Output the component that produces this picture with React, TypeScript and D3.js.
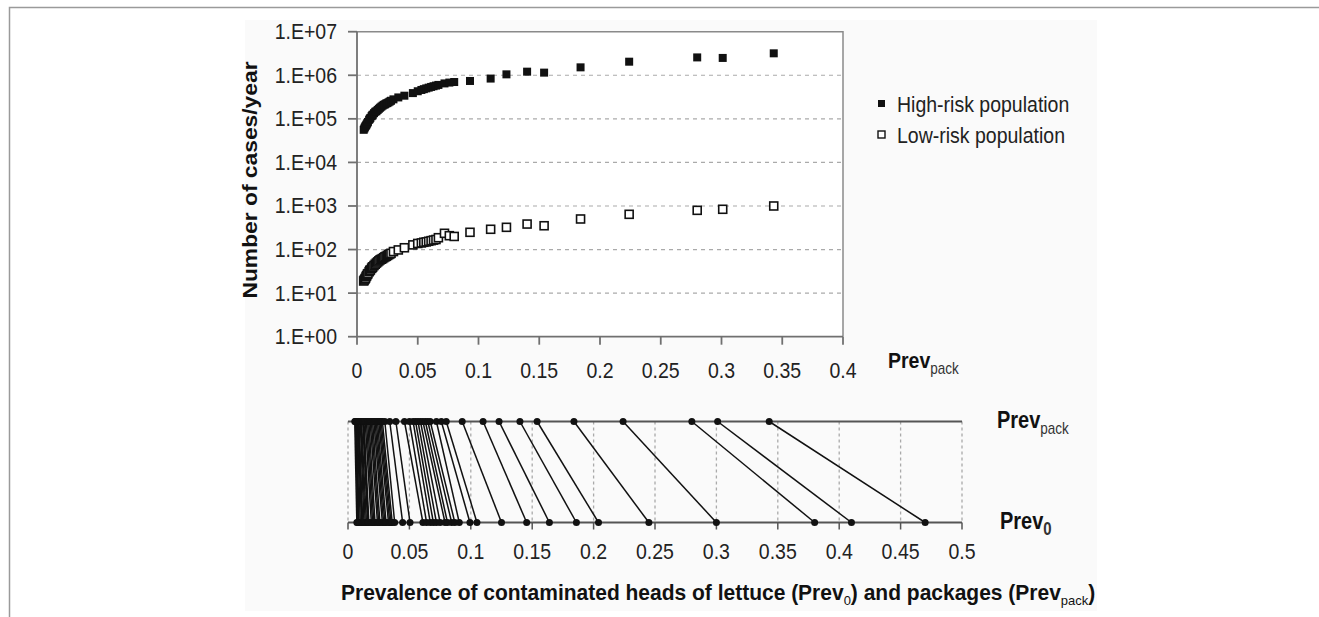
import { useEffect, useRef } from 'react';
import * as d3 from 'd3';

// Prevalence of contaminated packages (x of the top chart, upper row of the bottom chart)
const prevPack = [
  0.0055, 0.006, 0.0065, 0.007, 0.0075, 0.008, 0.0085, 0.009, 0.010, 0.0105, 0.011, 0.012,
  0.0125, 0.013, 0.014, 0.015, 0.016, 0.017, 0.018, 0.019, 0.020, 0.021, 0.022, 0.023,
  0.024, 0.025, 0.026, 0.027, 0.028, 0.030, 0.034, 0.039, 0.046, 0.050, 0.053, 0.055,
  0.057, 0.059, 0.061, 0.063, 0.065, 0.067, 0.072, 0.076, 0.080, 0.093, 0.110, 0.123,
  0.140, 0.154, 0.184, 0.224, 0.280, 0.301, 0.343,
];
// Cases/year, high-risk population
const highRisk = [
  5.6e4, 6.0e4, 6.4e4, 6.8e4, 7.1e4, 7.5e4, 8.0e4, 8.5e4, 9.5e4, 1.0e5, 1.05e5, 1.15e5,
  1.2e5, 1.25e5, 1.35e5, 1.45e5, 1.5e5, 1.6e5, 1.7e5, 1.8e5, 1.9e5, 2.0e5, 2.1e5, 2.15e5,
  2.25e5, 2.3e5, 2.4e5, 2.5e5, 2.6e5, 2.8e5, 3.1e5, 3.4e5, 3.9e5, 4.3e5, 4.6e5, 4.8e5,
  5.0e5, 5.2e5, 5.4e5, 5.6e5, 5.8e5, 6.0e5, 6.5e5, 6.8e5, 7.0e5, 7.4e5, 8.4e5, 1.05e6,
  1.21e6, 1.15e6, 1.52e6, 2.05e6, 2.57e6, 2.5e6, 3.19e6,
];
// Cases/year, low-risk population
const lowRisk = [
  19, 20, 21, 22, 24, 25, 27, 28, 31, 33, 34, 37,
  39, 40, 43, 46, 49, 52, 55, 58, 60, 62, 65, 68,
  70, 73, 76, 79, 82, 90, 98, 110, 128, 138, 142, 147,
  150, 155, 160, 165, 170, 187, 236, 208, 200, 249, 292, 324,
  385, 352, 503, 644, 795, 840, 1000,
];
// Prevalence of contaminated heads of lettuce (lower row of the bottom chart)
const prev0 = [
  0.0072, 0.008, 0.0085, 0.009, 0.010, 0.011, 0.0115, 0.012, 0.013, 0.014, 0.015, 0.016,
  0.0165, 0.017, 0.019, 0.020, 0.021, 0.022, 0.024, 0.025, 0.026, 0.028, 0.029, 0.030,
  0.031, 0.033, 0.034, 0.035, 0.036, 0.038, 0.0445, 0.0505, 0.061, 0.064, 0.067, 0.0695,
  0.072, 0.075, 0.079, 0.081, 0.0844, 0.087, 0.0906, 0.0993, 0.105, 0.125, 0.1455, 0.164,
  0.186, 0.204, 0.245, 0.300, 0.380, 0.410, 0.470,
];

const yTicks = [1, 10, 100, 1e3, 1e4, 1e5, 1e6, 1e7];
const xTopTicks = [0, 0.05, 0.1, 0.15, 0.2, 0.25, 0.3, 0.35, 0.4];
const xBotTicks = [0, 0.05, 0.1, 0.15, 0.2, 0.25, 0.3, 0.35, 0.4, 0.45, 0.5];
const legendItems = ['High-risk population', 'Low-risk population'];

const FONT = '"Liberation Sans", Arial, sans-serif';
const SY = 1.17; // the original picture is a bit taller than wide

const App = () => {
  const svgRef = useRef<SVGSVGElement>(null);

  useEffect(() => {
    if (!svgRef.current) return;
    const svg = d3.select(svgRef.current);
    svg.selectAll('*').remove();
    svg.attr('font-family', FONT);

    // page frame + picture background
    svg.append('rect').attr('x', 245).attr('y', 20).attr('width', 852).attr('height', 591).attr('fill', '#fafafa');
    svg.append('path').attr('d', 'M9.5,617V7.5H1319').attr('fill', 'none').attr('stroke', '#9a9a9a').attr('stroke-width', 1.5);

    const label = (x: number, y: number, str: string, anchor = 'start', size = 19.5, weight = 'normal') =>
      svg.append('text')
        .attr('transform', `translate(${x},${y}) scale(1,${SY})`)
        .attr('text-anchor', anchor)
        .attr('font-size', size)
        .attr('font-weight', weight)
        .attr('fill', '#222')
        .text(str);

    // ---------- top chart ----------
    const x = d3.scaleLinear().domain([0, 0.4]).range([357, 843]);
    const y = d3.scaleLog().domain([1, 1e7]).range([336.7, 31.7]);

    svg.append('rect').attr('x', 357).attr('y', 31.7).attr('width', 486).attr('height', 305).attr('fill', '#fff');

    yTicks.slice(1, -1).forEach(t => {
      svg.append('line')
        .attr('x1', x(0)).attr('x2', x(0.4)).attr('y1', y(t)).attr('y2', y(t))
        .attr('stroke', '#aaa').attr('stroke-width', 1.2).attr('stroke-dasharray', '4,4');
    });

    svg.append('path')
      .attr('d', `M${x(0)},${y(1e7)}H${x(0.4)}V${y(1)}`)
      .attr('fill', 'none').attr('stroke', '#8a8a8a').attr('stroke-width', 1.5);
    svg.append('path')
      .attr('d', `M${x(0)},${y(1e7)}V${y(1)}H${x(0.4)}`)
      .attr('fill', 'none').attr('stroke', '#707070').attr('stroke-width', 1.8);

    yTicks.forEach(t => {
      svg.append('line').attr('x1', 348).attr('x2', x(0)).attr('y1', y(t)).attr('y2', y(t))
        .attr('stroke', '#707070').attr('stroke-width', 1.8);
      label(337, y(t) + 7.5, `1.E+${String(Math.log10(t)).padStart(2, '0')}`, 'end');
    });
    xTopTicks.forEach(t => {
      svg.append('line').attr('x1', x(t)).attr('x2', x(t)).attr('y1', y(1)).attr('y2', y(1) + 8)
        .attr('stroke', '#707070').attr('stroke-width', 1.8);
      label(x(t), 378, String(t), 'middle');
    });

    const sq = 8;
    svg.append('g').selectAll('rect').data(prevPack).join('rect')
      .attr('x', (d) => x(d) - sq / 2)
      .attr('y', (_, i) => y(lowRisk[i]) - sq / 2)
      .attr('width', sq).attr('height', sq)
      .attr('fill', '#fff').attr('stroke', '#111').attr('stroke-width', 1.6);
    svg.append('g').selectAll('rect').data(prevPack).join('rect')
      .attr('x', (d) => x(d) - sq / 2)
      .attr('y', (_, i) => y(highRisk[i]) - sq / 2)
      .attr('width', sq).attr('height', sq)
      .attr('fill', '#111');

    // y title
    svg.append('text')
      .attr('transform', `translate(257,180) rotate(-90) scale(${SY},1)`)
      .attr('text-anchor', 'middle').attr('font-size', 19.5).attr('font-weight', 'bold').attr('fill', '#111')
      .text('Number of cases/year');

    // legend
    legendItems.forEach((name, i) => {
      const cy = 103.5 + i * 31;
      svg.append('rect').attr('x', 878).attr('y', cy - 3.5).attr('width', 7).attr('height', 7)
        .attr('fill', i === 0 ? '#111' : '#fff').attr('stroke', '#111').attr('stroke-width', i === 0 ? 0 : 1.4);
      label(897, cy + 8, name);
    });

    const prevLabel = (px: number, py: number, sub: string, size: number) => {
      const t = svg.append('text')
        .attr('transform', `translate(${px},${py}) scale(1,${SY})`)
        .attr('font-size', size).attr('font-weight', 'bold').attr('fill', '#111');
      t.append('tspan').text('Prev');
      t.append('tspan').attr('dy', 5).attr('font-size', sub === '0' ? 15 : 13.5)
        .attr('font-weight', sub === '0' ? 'bold' : 'normal').attr('fill', '#333').text(sub);
    };
    prevLabel(888, 368, 'pack', 19.5);

    // ---------- bottom chart ----------
    const xb = d3.scaleLinear().domain([0, 0.5]).range([348, 962]);
    const yb = d3.scalePoint<string>().domain(['pack', '0']).range([421.5, 522.5]);

    xBotTicks.forEach(t => {
      svg.append('line').attr('x1', xb(t)).attr('x2', xb(t)).attr('y1', yb('pack')!).attr('y2', yb('0')!)
        .attr('stroke', '#aaa').attr('stroke-width', 1.3).attr('stroke-dasharray', '3,3');
      svg.append('line').attr('x1', xb(t)).attr('x2', xb(t)).attr('y1', yb('0')!).attr('y2', yb('0')! + 7)
        .attr('stroke', '#555').attr('stroke-width', 1.5);
      label(xb(t), 559, String(t), 'middle');
    });

    svg.append('g').selectAll('line').data(prevPack).join('line')
      .attr('x1', (d) => xb(d)).attr('y1', yb('pack')!)
      .attr('x2', (_, i) => xb(prev0[i])).attr('y2', yb('0')!)
      .attr('stroke', '#111').attr('stroke-width', 1.5);

    ['pack', '0'].forEach(k => {
      svg.append('line').attr('x1', xb(0)).attr('x2', xb(0.5)).attr('y1', yb(k)!).attr('y2', yb(k)!)
        .attr('stroke', '#555').attr('stroke-width', 2);
    });

    svg.append('g').selectAll('circle').data(prevPack).join('circle')
      .attr('cx', (d) => xb(d)).attr('cy', yb('pack')!).attr('r', 3.5).attr('fill', '#111');
    svg.append('g').selectAll('circle').data(prev0).join('circle')
      .attr('cx', (d) => xb(d)).attr('cy', yb('0')!).attr('r', 3.5).attr('fill', '#111');

    prevLabel(997, 428, 'pack', 20);
    prevLabel(1000, 529, '0', 20);

    // bottom title
    const title = svg.append('text')
      .attr('transform', `translate(341,600) scale(1,1.05)`)
      .attr('font-size', 21).attr('font-weight', 'bold').attr('fill', '#111');
    title.append('tspan').text('Prevalence of contaminated heads of lettuce (Prev');
    title.append('tspan').attr('dy', 5).attr('font-size', 13).attr('font-weight', 'normal').text('0');
    title.append('tspan').attr('dy', -5).text(') and packages (Prev');
    title.append('tspan').attr('dy', 5).attr('font-size', 13).attr('font-weight', 'normal').text('pack');
    title.append('tspan').attr('dy', -5).text(')');
  }, []);

  return (
    <svg
      ref={svgRef}
      width={1319}
      height={617}
      style={{ position: 'absolute', left: 0, top: 0, background: '#fff' }}
    />
  );
};

export default App;
